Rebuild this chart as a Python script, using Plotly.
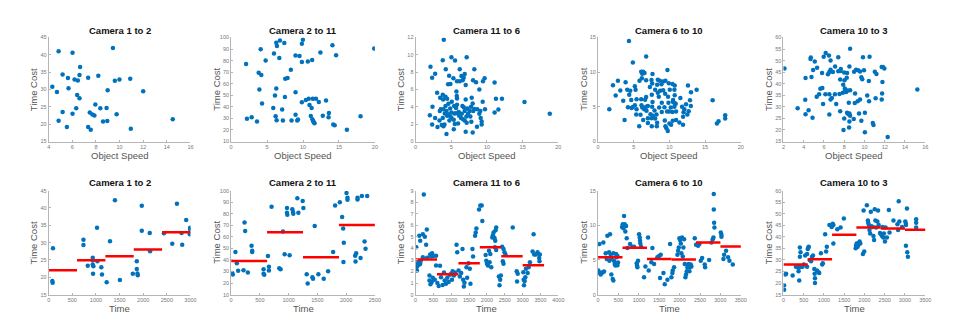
""" Time cost between camera pairs: object speed (top) and time of day (bottom). """

import plotly.graph_objects as go
from plotly.subplots import make_subplots

# ---- top row: object speed vs time cost ----
spd_1_2  = [4.84, 6.02, 9.44, 6.66, 5.18, 5.63, 6.19, 6.47, 6.61, 7.34, 8.2, 9.6, 9.99, 10.9, 4.31,
            4.7, 5.68, 8.99, 12.0, 6.41, 6.61, 7.95, 6.33, 8.37, 8.9, 5.18, 6.02, 7.48, 7.7, 7.87,
            9.75, 14.5, 4.84, 8.6, 8.96, 5.54, 7.34, 7.56, 10.95]
cost_1_2 = [41.0, 40.6, 42.0, 36.5, 34.3, 33.3, 32.9, 32.6, 34.2, 33.4, 34.0, 32.5, 32.9, 33.1, 30.8,
            29.3, 30.4, 29.8, 29.5, 28.4, 27.5, 25.7, 24.6, 24.6, 24.7, 23.5, 23.0, 23.4, 22.8, 22.5,
            22.9, 21.4, 21.0, 20.8, 20.9, 19.2, 19.2, 18.4, 18.7]

spd_2_11  = [2.08, 4.11, 4.8, 5.96, 6.7, 6.28, 6.37, 6.79, 7.4, 8.96, 9.51, 9.84, 9.98, 9.84, 10.67,
             11.27, 12.42, 14.09, 14.6, 19.9, 8.31, 7.53, 7.85, 3.83, 4.2, 3.93, 6.28, 6.1, 7.48, 8.96,
             9.84, 10.4, 10.8, 11.36, 11.8, 12.2, 13.2, 4.3, 10.9, 5.86, 7.1, 11.2, 13.6, 13.55, 8.96,
             6.19, 11.08, 12.75, 18.0, 2.2, 2.86, 6.33, 7.2, 8.4, 9.2, 9.3, 11.3, 11.4, 11.5, 11.6,
             3.6, 14.2, 14.4, 16.1]
cost_2_11 = [77.1, 89.8, 80.2, 86.1, 82.2, 95.5, 92.6, 97.5, 95.2, 84.4, 84.1, 94.6, 98.0, 78.8, 79.3,
             80.5, 87.0, 93.2, 84.7, 90.4, 72.0, 64.3, 64.9, 69.4, 67.5, 55.0, 55.8, 49.9, 48.5, 52.7,
             44.0, 45.9, 47.1, 47.1, 47.1, 44.2, 45.4, 42.8, 41.7, 38.9, 37.7, 39.1, 34.6, 30.9, 33.2,
             31.8, 32.1, 32.4, 31.8, 29.8, 30.9, 28.4, 28.1, 28.1, 28.1, 29.0, 29.2, 27.8, 26.7, 25.8,
             27.3, 24.7, 24.1, 20.2]

spd_11_6  = [3.95, 3.81, 5.02, 5.53, 7.16, 2.09, 2.74, 2.32, 4.23, 6.19, 8.23, 4.7, 5.3, 6.42, 6.88,
             6.74, 5.8, 6.19, 6.6, 8.05, 8.47, 9.67, 9.44, 4.56, 4.88, 7.02, 11.07, 8.93, 5.72, 3.02,
             3.81, 4.19, 4.42, 3.86, 3.44, 5.77, 5.81, 7.02, 7.86, 11.26, 12.1, 15.26, 18.8, 9.4, 8.0,
             5.07, 4.6, 2.37, 4.19, 5.4, 5.8, 6.56, 3.53, 3.9, 4.84, 5.67, 6.74, 7.26, 7.77, 8.23,
             8.65, 9.72, 11.6, 11.07, 3.4, 4.33, 5.02, 6.05, 6.88, 7.58, 8.09, 9.07, 4.09, 4.56, 5.44,
             5.67, 6.47, 7.35, 8.93, 2.0, 4.42, 4.88, 6.1, 7.12, 7.67, 2.74, 3.81, 5.02, 6.37, 6.65,
             9.12, 3.35, 4.74, 5.35, 6.88, 7.81, 9.26, 2.32, 3.67, 4.05, 5.49, 5.95, 7.16, 9.26, 3.07,
             3.9, 5.35, 8.6, 7.02, 8.0, 4.33]
cost_11_6 = [11.73, 9.38, 9.72, 9.34, 9.72, 8.62, 7.82, 7.37, 8.35, 8.35, 8.35, 7.6, 7.3, 7.56, 7.78,
             7.37, 6.95, 6.95, 7.06, 7.06, 6.84, 7.3, 6.95, 6.6, 6.65, 6.53, 6.8, 6.0, 5.78, 5.62,
             5.4, 5.16, 4.94, 4.86, 5.05, 5.24, 4.97, 4.86, 5.05, 4.94, 4.94, 4.56, 3.19, 4.6, 4.4,
             4.6, 4.37, 4.0, 4.1, 4.1, 4.25, 4.1, 3.72, 3.72, 3.8, 3.87, 3.95, 3.8, 4.0, 3.76,
             3.72, 3.72, 3.68, 3.34, 3.53, 3.53, 3.34, 3.42, 3.53, 3.53, 3.53, 3.53, 3.23, 3.15, 3.23,
             3.27, 3.19, 3.19, 3.19, 3.04, 2.96, 2.89, 2.96, 2.89, 2.89, 2.7, 2.7, 2.7, 2.7, 2.58,
             2.7, 2.43, 2.43, 2.51, 2.43, 2.28, 2.32, 1.97, 1.9, 1.97, 2.01, 2.09, 2.16, 1.97, 1.67,
             1.75, 1.41, 1.71, 1.14, 1.03, 0.87]

spd_6_10  = [4.33, 6.74, 4.88, 9.72, 6.05, 6.33, 6.19, 6.51, 7.63, 6.14, 5.81, 6.74, 7.49, 8.65, 8.37,
             9.12, 9.44, 9.91, 10.42, 10.74, 2.09, 2.79, 3.86, 7.58, 8.28, 8.88, 5.16, 7.26, 12.6, 13.81,
             13.02, 3.12, 4.09, 4.51, 5.26, 8.0, 8.7, 9.12, 10.05, 10.7, 8.37, 9.40, 2.47, 4.37, 7.53,
             6.74, 8.51, 9.81, 10.74, 11.53, 6.05, 6.6, 10.51, 10.47, 12.88, 3.53, 4.65, 5.4, 7.63, 8.93,
             16.05, 9.86, 10.7, 10.88, 12.33, 5.16, 6.09, 6.98, 6.19, 6.74, 7.58, 4.19, 4.7, 4.88, 8.56,
             9.3, 10.19, 10.7, 11.77, 13.0, 1.58, 5.4, 6.47, 6.79, 7.91, 9.67, 8.93, 9.95, 10.42, 10.93,
             12.09, 12.7, 11.98, 5.35, 5.95, 7.35, 7.72, 8.19, 12.51, 11.91, 17.81, 17.81, 6.98, 7.49, 8.0,
             3.72, 6.33, 9.35, 10.47, 10.93, 16.88, 16.65, 6.98, 8.28, 10.0, 10.23, 11.40, 11.91, 5.77, 7.53,
             8.23, 9.44, 9.58, 9.77]
cost_6_10 = [14.48, 12.25, 11.39, 10.30, 10.06, 10.06, 9.78, 9.87, 9.73, 9.11, 8.78, 8.83, 8.88, 8.78, 8.92,
             8.64, 8.78, 8.40, 8.31, 8.07, 8.12, 8.78, 8.55, 8.36, 8.17, 8.26, 7.98, 7.88, 8.07, 7.45,
             7.12, 7.36, 7.45, 7.31, 7.45, 7.45, 7.31, 7.41, 7.45, 7.45, 7.03, 6.88, 6.65, 6.74, 6.74,
             6.41, 6.46, 6.46, 6.69, 6.27, 6.08, 6.03, 5.98, 5.75, 5.94, 5.89, 5.98, 6.08, 5.7, 5.6,
             5.94, 5.6, 5.56, 5.46, 5.37, 5.22, 5.22, 5.13, 4.89, 5.03, 5.03, 4.94, 4.84, 4.99, 4.89,
             4.94, 4.89, 5.03, 5.03, 5.13, 4.65, 4.65, 4.65, 4.42, 4.46, 4.32, 4.27, 4.32, 4.27, 4.32,
             4.65, 4.37, 4.23, 3.89, 3.85, 3.94, 3.70, 3.89, 3.89, 3.56, 3.80, 3.33, 3.37, 3.37, 3.33,
             3.09, 3.09, 3.04, 2.99, 3.09, 2.94, 2.61, 2.66, 2.71, 2.61, 2.42, 2.75, 2.42, 2.19, 2.19,
             2.19, 2.19, 1.9, 1.52]

spd_10_3  = [8.58, 6.17, 4.7, 4.67, 5.09, 5.97, 6.49, 6.65, 7.41, 9.85, 10.5, 2.1, 5.32, 4.93, 5.81,
             6.39, 6.53, 6.65, 6.88, 7.1, 7.41, 7.63, 7.99, 7.66, 8.28, 8.51, 8.97, 9.17, 9.36, 9.56,
             9.95, 8.25, 7.6, 8.02, 9.69, 9.78, 10.43, 11.02, 11.18, 11.7, 11.83, 11.96, 11.77, 4.18, 4.77,
             5.84, 5.64, 7.9, 8.06, 8.1, 8.35, 8.58, 9.07, 6.14, 6.53, 7.08, 7.86, 8.19, 7.53, 10.27,
             11.74, 15.22, 5.52, 5.28, 6.65, 6.78, 4.15, 9.56, 8.45, 9.04, 9.33, 10.45, 11.1, 11.7, 5.91,
             7.21, 3.4, 4.48, 4.18, 6.53, 7.6, 8.28, 8.41, 8.58, 8.51, 9.46, 10.04, 4.87, 8.0, 8.94,
             9.69, 8.51, 10.82, 10.89, 8.48, 7.93, 10.04, 12.29]
cost_10_3 = [55.16, 53.3, 51.3, 50.7, 49.6, 51.7, 52.2, 50.0, 51.5, 51.5, 51.7, 46.6, 46.9, 45.9, 44.6,
             44.1, 45.1, 46.0, 45.1, 47.5, 45.4, 45.5, 44.9, 46.4, 44.6, 47.5, 45.2, 46.0, 45.8, 45.3,
             45.8, 42.6, 41.8, 41.5, 42.8, 41.9, 41.2, 45.2, 44.2, 47.2, 47.2, 46.6, 40.8, 42.5, 42.9,
             38.2, 37.8, 39.6, 37.9, 36.9, 37.1, 37.2, 35.8, 35.4, 35.4, 35.5, 36.1, 36.4, 35.6, 34.9,
             35.8, 37.5, 35.4, 34.4, 33.2, 33.8, 33.1, 33.2, 31.8, 31.7, 32.4, 32.4, 33.7, 33.2, 31.2,
             31.2, 29.4, 28.5, 26.8, 26.7, 28.1, 27.5, 26.8, 26.1, 27.1, 27.1, 27.4, 25.3, 25.0, 24.7,
             24.0, 23.7, 23.0, 22.1, 21.1, 20.0, 19.0, 17.0]

# ---- bottom row: time vs time cost, with per-window averages (red) ----
t_1_2  = [91, 77, 84, 736, 736, 827, 932, 932, 932, 946, 939, 1023, 1030, 1114, 1128, 1227, 1297, 1402,
          1507, 1780, 1864, 1864, 1878, 1885, 1970, 1970, 2138, 2145, 2439, 2615, 2713, 2811, 2825,
          2909, 2993, 2993, 2986]
tc_1_2 = [28.4, 18.9, 18.4, 30.8, 29.3, 23.3, 25.6, 24.9, 23.7, 23.2, 21.0, 34.3, 24.6, 22.9, 20.8, 18.6,
          30.4, 42.2, 19.2, 21.0, 24.6, 22.4, 21.1, 20.6, 33.4, 40.6, 32.8, 27.5, 32.7, 29.7, 41.2, 32.8,
          29.4, 36.5, 34.3, 33.8, 32.4]
win_1_2 = [0, 600, 1200, 1800, 2400, 3000]
avg_1_2 = [22.0, 24.9, 26.1, 28.0, 33.0]

t_2_11  = [17, 29, 75, 99, 122, 215, 233, 244, 291, 355, 366, 366, 564, 564, 576, 640, 657, 657, 703, 837,
           860, 901, 930, 971, 971, 977, 1064, 1076, 1081, 1151, 1169, 1244, 1256, 1017, 1314, 1331, 1413,
           1424, 1453, 1517, 1610, 1686, 1773, 1808, 1890, 1930, 1948, 1959, 1953, 2006, 2023, 2023, 2157,
           2163, 2174, 2198, 2198, 2250, 2273, 2320, 2337, 2366]
tc_2_11 = [28.6, 27.4, 46.9, 37.1, 30.6, 31.1, 72.3, 65.1, 29.1, 52.3, 48.0, 46.9, 32.0, 28.0, 27.1, 43.4,
           34.0, 30.9, 86.0, 32.9, 32.0, 64.6, 44.9, 84.9, 80.9, 79.1, 83.9, 81.4, 80.0, 93.4, 80.9, 90.9,
           84.9, 44.0, 27.7, 19.7, 25.1, 23.7, 69.4, 27.7, 23.7, 30.3, 46.9, 87.1, 90.0, 77.1, 67.1, 54.9,
           38.3, 98.0, 93.7, 92.0, 43.7, 38.6, 45.7, 93.7, 92.3, 41.7, 95.4, 56.0, 49.7, 95.4]
win_2_11 = [0, 625, 1250, 1875, 2500]
avg_2_11 = [39.1, 64.0, 42.3, 70.3]

t_11_6  = [231, 19, 102, 130, 204, 259, 315, 296, 9, 28, 37, 56, 83, 111, 130, 148, 204, 407, 435, 463,
           491, 389, 389, 417, 454, 481, 537, 574, 574, 324, 611, 648, 685, 713, 759, 796, 815, 852, 889,
           926, 963, 1000, 1019, 1037, 1074, 1102, 1148, 1167, 1204, 1241, 1278, 1315, 1333, 1352, 1370,
           1426, 1444, 1481, 1519, 1537, 1593, 1611, 1667, 1685, 1704, 1778, 1815, 1852, 1870, 1963,
           1981, 2000, 2028, 2056, 2074, 2093, 2120, 2148, 2167, 2185, 2213, 2232, 2241, 2259, 2222,
           2259, 2333, 2352, 2370, 2389, 2426, 2463, 2491, 2519, 2444, 2463, 2722, 2833, 2843, 2861,
           3019, 3028, 3037, 3056, 3074, 3093, 3139, 3167, 3204, 3278, 3306, 3324, 3370, 3417, 3463,
           3472, 3481]
tc_11_6 = [8.66, 4.09, 5.09, 4.66, 5.23, 5.0, 5.63, 4.31, 2.66, 2.37, 2.09, 2.51, 2.8, 2.6, 2.66, 2.94,
           3.23, 3.46, 3.29, 3.57, 3.34, 1.66, 1.23, 0.89, 1.09, 1.46, 1.29, 2.51, 3.37, 3.2, 1.0, 0.74,
           2.49, 1.51, 0.83, 1.91, 1.23, 0.94, 1.46, 1.09, 1.71, 1.8, 1.29, 2.03, 1.66, 1.91, 4.31, 3.66,
           2.09, 1.57, 1.86, 3.94, 1.29, 0.71, 1.03, 2.37, 1.46, 2.71, 2.23, 0.94, 3.94, 3.29, 5.09,
           5.37, 5.71, 7.37, 7.71, 7.71, 6.37, 3.43, 2.94, 2.66, 2.51, 3.8, 2.8, 3.51, 2.37, 4.94,
           5.14, 5.37, 4.89, 4.66, 5.57, 5.8, 4.09, 3.86, 1.57, 0.8, 1.29, 1.66, 4.14, 3.94, 3.66,
           3.46, 2.89, 2.66, 5.8, 2.03, 1.14, 1.8, 1.94, 1.29, 0.8, 1.17, 1.51, 2.23, 1.86, 2.37,
           2.8, 3.74, 5.23, 3.46, 3.46, 3.66, 3.17, 2.89, 3.46]
win_11_6 = [0, 600, 1200, 1800, 2400, 3000, 3600]
avg_11_6 = [3.03, 1.77, 2.71, 4.09, 3.31, 2.54]

t_6_10  = [8, 33, 49, 65, 90, 114, 147, 131, 188, 213, 229, 270, 294, 311, 278, 327, 327, 360, 376, 376,
           392, 409, 425, 441, 458, 474, 474, 490, 589, 605, 621, 638, 654, 670, 687, 703, 720, 785, 842,
           883, 948, 956, 965, 981, 1006, 1022, 1030, 1038, 1055, 1128, 1161, 1226, 1243, 1308, 1333,
           1374, 1455, 1496, 1537, 1521, 1603, 1635, 1701, 1766, 1799, 1823, 1831, 1864, 1946, 1962,
           1979, 1995, 2011, 2028, 2044, 2060, 2077, 2093, 2109, 2126, 2142, 2158, 2175, 2191, 2207,
           2224, 2240, 2256, 2273, 2289, 2371, 2403, 2452, 2485, 2518, 2551, 2616, 2625, 2723, 2780,
           2812, 2829, 2837, 2837, 2845, 2853, 3009, 3025, 3025, 3074, 3090, 3139, 3188, 3221, 3303]
tc_6_10 = [3.48, 7.29, 3.1, 2.9, 3.1, 3.24, 3.33, 7.52, 5.95, 5.14, 8.48, 6.1, 8.71, 5.76, 4.9, 5.14, 2.9,
           2.24, 2.05, 5.95, 4.9, 4.43, 4.19, 5.86, 5.38, 5.62, 4.24, 4.62, 9.76, 10.14, 9.57, 11.33,
           10.14, 9.1, 9.9, 8.14, 6.71, 7.29, 6.9, 6.9, 4.52, 4.19, 3.95, 4.9, 8.71, 8.24, 7.76, 7.38,
           6.9, 2.52, 4.05, 8.24, 3.48, 4.67, 6.71, 4.43, 5.38, 5.57, 5.76, 2.38, 3.1, 1.48, 2.14, 7.29,
           2.52, 3.1, 3.48, 3.95, 5.76, 6.33, 6.81, 8.14, 7.86, 7.38, 5.95, 8.24, 5.48, 6.81, 8.0,
           4.43, 2.52, 2.9, 3.38, 3.95, 4.33, 4.43, 3.38, 3.95, 4.33, 4.05, 8.14, 7.19, 7.05, 7.29,
           4.9, 5.29, 4.33, 3.95, 5.0, 7.52, 8.0, 8.24, 14.52, 12.29, 10.38, 9.67, 8.95, 8.62, 8.33,
           5.14, 5.76, 6.33, 5.38, 4.9, 4.33]
win_6_10 = [0, 600, 1200, 1800, 2400, 3000, 3600]
avg_6_10 = [5.38, 6.76, 5.14, 5.05, 7.52, 6.95]

t_10_3  = [16, 16, 49, 65, 227, 308, 340, 373, 389, 405, 405, 421, 389, 438, 470, 502, 535, 373, 421, 583,
           583, 600, 616, 624, 648, 681, 705, 729, 762, 770, 778, 778, 827, 867, 883, 924, 956, 972,
           1029, 1053, 1070, 1134, 1191, 1216, 1232, 1232, 1329, 1410, 1491, 1783, 1791, 1807, 1832,
           1848, 1864, 1880, 1897, 1961, 1978, 1994, 2059, 2083, 2091, 2108, 2124, 2140, 2156, 2172,
           2205, 2221, 2237, 2253, 2269, 2286, 2318, 2334, 2351, 2383, 2407, 2432, 2448, 2464, 2480,
           2505, 2521, 2553, 2602, 2618, 2715, 2813, 2829, 2845, 2861, 2926, 3007, 3023, 3023, 3048,
           3056, 3072, 3023, 3275, 3275, 3275]
tc_10_3 = [19.0, 17.1, 23.7, 24.0, 23.3, 27.1, 26.9, 26.6, 27.4, 35.4, 31.4, 33.3, 21.1, 27.0, 27.0, 28.0,
           31.9, 25.1, 26.9, 27.0, 32.6, 34.7, 35.4, 35.7, 30.0, 29.4, 31.4, 31.9, 26.1, 24.0, 22.1,
           20.0, 25.4, 24.7, 24.3, 32.9, 28.0, 28.6, 41.1, 33.7, 35.7, 45.1, 44.3, 45.7, 45.1, 37.1,
           43.3, 44.0, 47.9, 35.1, 36.1, 37.1, 35.7, 36.6, 37.4, 38.0, 37.1, 32.6, 51.4, 33.7, 53.7,
           47.1, 46.1, 45.1, 42.9, 41.4, 50.9, 44.6, 44.3, 40.4, 38.6, 51.9, 47.1, 44.0, 46.6, 51.4,
           45.1, 41.7, 41.1, 40.4, 44.3, 39.7, 41.4, 38.0, 44.0, 39.7, 51.6, 41.9, 47.1, 45.4, 42.9,
           55.4, 46.6, 44.3, 46.6, 45.7, 36.1, 52.3, 33.3, 31.4, 45.1, 47.6, 46.1, 44.0]
win_10_3 = [0, 600, 1200, 1800, 2400, 3000, 3600]
avg_10_3 = [28.0, 30.3, 40.9, 44.0, 43.6, 43.1]

titles = ["Camera 1 to 2", "Camera 2 to 11", "Camera 11 to 6", "Camera 6 to 10", "Camera 10 to 3"]

# (x, y, x range, x dtick, y range, y dtick)
top = [
    (spd_1_2,  cost_1_2,  [4, 16], 2, [15, 45], 5),
    (spd_2_11, cost_2_11, [0, 20], 5, [10, 100], 10),
    (spd_11_6, cost_11_6, [0, 20], 5, [0, 12], 2),
    (spd_6_10, cost_6_10, [0, 20], 5, [0, 15], 5),
    (spd_10_3, cost_10_3, [2, 16], 2, [15, 60], 5),
]
bottom = [
    (t_1_2,  tc_1_2,  [0, 3000], 500, [15, 45], 5, win_1_2, avg_1_2),
    (t_2_11, tc_2_11, [0, 2500], 500, [10, 100], 10, win_2_11, avg_2_11),
    (t_11_6, tc_11_6, [0, 4000], 500, [0, 9], 1, win_11_6, avg_11_6),
    (t_6_10, tc_6_10, [0, 3500], 500, [0, 15], 5, win_6_10, avg_6_10),
    (t_10_3, tc_10_3, [0, 3500], 500, [15, 60], 5, win_10_3, avg_10_3),
]

W, H = 954, 322
x_dom = [[39, 182], [223, 368], [409, 553], [593, 737], [780, 923]]   # pixel columns
y_dom = {1: [133, 27], 2: [289, 183]}                                  # pixel rows (bottom, top)

blue = '#0072BD'
axis_col = '#b5b5b5'
tick_font = dict(family='Liberation Sans, Arial', size=5.5, color='#777777')
lab_font = dict(family='Liberation Sans, Arial', size=9.5, color='#555555')
ttl_font = dict(family='Liberation Sans, Arial', size=9.5, color='#111111')

fig = make_subplots(rows=2, cols=5)
annots = []

def style_axes(row, col, xr, xd, yr, yd):
    common = dict(showline=True, linecolor=axis_col, linewidth=1, ticks='inside', ticklen=2,
                  tickcolor=axis_col, tickfont=tick_font, showgrid=False, zeroline=False)
    xd0, xd1 = x_dom[col - 1]
    yb, yt = y_dom[row]
    fig.update_xaxes(row=row, col=col, range=xr, dtick=xd, tick0=xr[0],
                     domain=[xd0 / W, xd1 / W], **common)
    fig.update_yaxes(row=row, col=col, range=yr, dtick=yd, tick0=yr[0],
                     domain=[1 - yb / H, 1 - yt / H], **common)

for i, (x, y, xr, xd, yr, yd) in enumerate(top):
    col = i + 1
    fig.add_trace(go.Scatter(x=x, y=y, mode='markers', showlegend=False,
                             marker=dict(color=blue, size=4.5)), row=1, col=col)
    style_axes(1, col, xr, xd, yr, yd)

for i, (x, y, xr, xd, yr, yd, win, avg) in enumerate(bottom):
    col = i + 1
    fig.add_trace(go.Scatter(x=x, y=y, mode='markers', showlegend=False,
                             marker=dict(color=blue, size=4.5)), row=2, col=col)
    seg_x, seg_y = [], []
    for k, v in enumerate(avg):
        seg_x += [win[k], win[k + 1], None]
        seg_y += [v, v, None]
    fig.add_trace(go.Scatter(x=seg_x, y=seg_y, mode='lines', showlegend=False,
                             line=dict(color='#ff0000', width=2.5)), row=2, col=col)
    style_axes(2, col, xr, xd, yr, yd)

# titles and axis labels
for i, name in enumerate(titles):
    x0, x1 = x_dom[i]
    xc = (x0 + x1) / 2 / W
    for row, ty, xlabel, xy in [(1, 20, 'Object Speed', 147), (2, 175, 'Time', 303)]:
        annots.append(dict(text='<b>' + name + '</b>', x=xc, y=1 - ty / H, xref='paper', yref='paper',
                           showarrow=False, font=ttl_font, xanchor='center', yanchor='middle'))
        annots.append(dict(text=xlabel, x=xc, y=1 - xy / H, xref='paper', yref='paper',
                           showarrow=False, font=lab_font, xanchor='center', yanchor='middle'))
        yb, yt = y_dom[row]
        annots.append(dict(text='Time Cost', x=(x0 - 15) / W, y=1 - (yb + yt) / 2 / H,
                           xref='paper', yref='paper', textangle=-90, showarrow=False,
                           font=lab_font, xanchor='center', yanchor='middle'))

fig.update_layout(width=W, height=H, margin=dict(l=0, r=0, t=0, b=0),
                  paper_bgcolor='white', plot_bgcolor='white', annotations=annots)
fig.write_html("out.html")
